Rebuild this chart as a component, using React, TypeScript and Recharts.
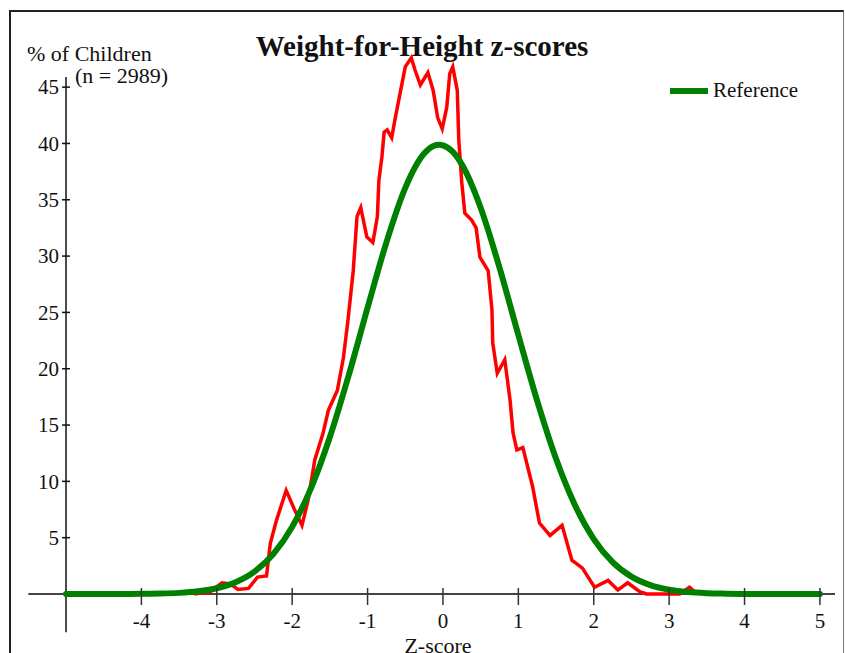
import { LineChart, Line, XAxis, YAxis, ReferenceLine, Legend } from "recharts";

const FONT = "'Liberation Serif', 'Times New Roman', serif";

const xTicks = [-4, -3, -2, -1, 0, 1, 2, 3, 4, 5];
const yTicks = [5, 10, 15, 20, 25, 30, 35, 40, 45];

// sample curve (% of children by z-score)
const sampleZ = [
  -3.3, -3.09, -2.93, -2.82, -2.72, -2.58, -2.46, -2.34, -2.29, -2.21, -2.08, -1.97, -1.87, -1.79,
  -1.7, -1.59, -1.52, -1.4, -1.32, -1.26, -1.19, -1.14, -1.09, -1.01, -0.93, -0.87, -0.85, -0.81,
  -0.78, -0.74, -0.68, -0.64, -0.57, -0.5, -0.42, -0.37, -0.3, -0.2, -0.13, -0.07, -0.01, 0.05,
  0.09, 0.13, 0.19, 0.21, 0.25, 0.29, 0.38, 0.44, 0.49, 0.6, 0.65, 0.66, 0.72, 0.82, 0.89, 0.93,
  0.98, 1.06, 1.19, 1.28, 1.42, 1.58, 1.71, 1.85, 2.01, 2.19, 2.32, 2.45, 2.61, 2.7, 3.14, 3.27,
  3.34,
];
const samplePct = [
  0, 0.2, 1.0, 0.9, 0.4, 0.5, 1.5, 1.6, 4.5, 6.5, 9.2, 7.5, 6.1, 8.3,
  11.9, 14.3, 16.3, 18.1, 21, 24.3, 28.7, 33.5, 34.3, 31.7, 31.2, 33.5, 36.7, 38.8,
  41, 41.2, 40.5, 42, 44.4, 46.8, 47.6, 46.5, 45.2, 46.3, 44.7, 42.3, 41.3, 43.2,
  46.2, 46.8, 44.7, 40.3, 36.5, 33.8, 33.2, 32.5, 29.9, 28.7, 25.2, 22.3, 19.6, 20.8, 17.2, 14.3,
  12.8, 13, 9.5, 6.3, 5.2, 6.1, 3, 2.3, 0.6, 1.2, 0.35, 1.0, 0.2, 0, 0, 0.6,
  0.2,
];

// reference curve
const refZ = [
  -5, -4.5, -4, -3.75, -3.5, -3.25, -3, -2.75, -2.5, -2.25, -2, -1.75, -1.5, -1.25, -1, -0.75,
  -0.5, -0.25, -0.125, -0.05, 0, 0.125, 0.25, 0.5, 0.75, 1, 1.25, 1.5, 1.75, 2, 2.25, 2.5, 2.75,
  3, 3.25, 3.5, 3.75, 4, 4.5, 5,
];
const refPct = [
  0, 0, 0.02, 0.04, 0.1, 0.24, 0.51, 1.04, 1.98, 3.55, 5.96, 9.4, 13.94, 19.42, 25.41, 31.22,
  36.05, 39.1, 39.78, 39.89, 39.84, 39.29, 38.14, 34.29, 28.97, 22.99, 17.14, 12.0, 7.9, 4.88, 2.83, 1.54, 0.79,
  0.38, 0.17, 0.07, 0.03, 0.01, 0, 0,
];

const sampleData = sampleZ.map((z, i) => ({ z, pct: samplePct[i] }));
const refData = refZ.map((z, i) => ({ z, ref: refPct[i] }));

const XTick = ({ x, y, payload }: any) => (
  <g>
    <line x1={x} x2={x} y1={y - 6} y2={y + 11} stroke="#333" strokeWidth={1.5} />
    <text x={x} y={y + 34} textAnchor="middle" fontFamily={FONT} fontSize={21} fill="#111">
      {payload.value}
    </text>
  </g>
);

const YTick = ({ x, y, payload }: any) => (
  <g>
    <line x1={x - 4} x2={x + 4} y1={y} y2={y} stroke="#111" strokeWidth={1.5} />
    <text x={x - 7} y={y} dy="0.35em" textAnchor="end" fontFamily={FONT} fontSize={21} fill="#111">
      {payload.value}
    </text>
  </g>
);

const LegendBox = () => (
  <div style={{ display: "flex", alignItems: "center", fontFamily: FONT, fontSize: 21, color: "#111" }}>
    <svg width={40} height={8}>
      <line x1={1} x2={39} y1={4} y2={4} stroke="#008000" strokeWidth={6} />
    </svg>
    <span style={{ marginLeft: 4 }}>Reference</span>
  </div>
);

export default function App() {
  return (
    <div
      style={{
        position: "absolute",
        left: 0,
        top: 0,
        width: 845,
        height: 653,
        overflow: "hidden",
        background: "#fff",
      }}
    >
      {/* the red curve rises above the top of the y axis, so don't clip it */}
      <style>{`.recharts-line, .recharts-line * { clip-path: none !important; }`}</style>
      <div
        style={{
          position: "absolute",
          left: 9,
          top: 10,
          width: 835,
          height: 700,
          boxSizing: "border-box",
          borderTop: "2px solid #222",
          borderLeft: "2px solid #222",
          borderRight: "1px solid #777",
        }}
      />
      <LineChart width={845} height={653} margin={{ top: 77, right: 10, bottom: 0, left: 0 }}>
        <XAxis
          type="number"
          dataKey="z"
          domain={[-5, 5.2]}
          ticks={xTicks}
          interval={0}
          height={59}
          axisLine={false}
          tickLine={false}
          tickSize={0}
          tickMargin={0}
          tick={<XTick />}
          allowDataOverflow
        />
        <YAxis
          type="number"
          domain={[0, 45.9]}
          ticks={yTicks}
          interval={0}
          width={66}
          axisLine={false}
          tickLine={false}
          tickSize={0}
          tickMargin={0}
          tick={<YTick />}
          allowDataOverflow
        />
        <ReferenceLine
          segment={[{ x: -5.5, y: 0 }, { x: 5.2, y: 0 }]}
          ifOverflow="visible"
          stroke="#444"
          strokeWidth={2}
        />
        <ReferenceLine
          segment={[{ x: -5, y: 45.9 }, { x: -5, y: -3.4 }]}
          ifOverflow="visible"
          stroke="#111"
          strokeWidth={1.5}
        />
        <Legend
          layout="horizontal"
          verticalAlign="middle"
          align="center"
          wrapperStyle={{ left: 669, top: 78, width: "auto" }}
          content={<LegendBox />}
        />
        <Line
          data={sampleData}
          dataKey="pct"
          type="linear"
          stroke="#ff0000"
          strokeWidth={3.5}
          dot={false}
          legendType="none"
          isAnimationActive={false}
        />
        <Line
          data={refData}
          dataKey="ref"
          name="Reference"
          type="monotone"
          stroke="#008000"
          strokeWidth={6}
          strokeLinecap="round"
          dot={false}
          isAnimationActive={false}
        />
      </LineChart>
      <svg
        width={845}
        height={653}
        style={{ position: "absolute", left: 0, top: 0, pointerEvents: "none" }}
      >
        <text x={422} y={56} textAnchor="middle" fontFamily={FONT} fontWeight="bold" fontSize={29} fill="#111">
          Weight-for-Height z-scores
        </text>
        <text x={27} y={61} fontFamily={FONT} fontSize={22} fill="#111">
          % of Children
        </text>
        <text x={75} y={83} fontFamily={FONT} fontSize={22} fill="#111">
          (n = 2989)
        </text>
        <text x={438} y={653} textAnchor="middle" fontFamily={FONT} fontSize={22} fill="#111">
          Z-score
        </text>
      </svg>
    </div>
  );
}
